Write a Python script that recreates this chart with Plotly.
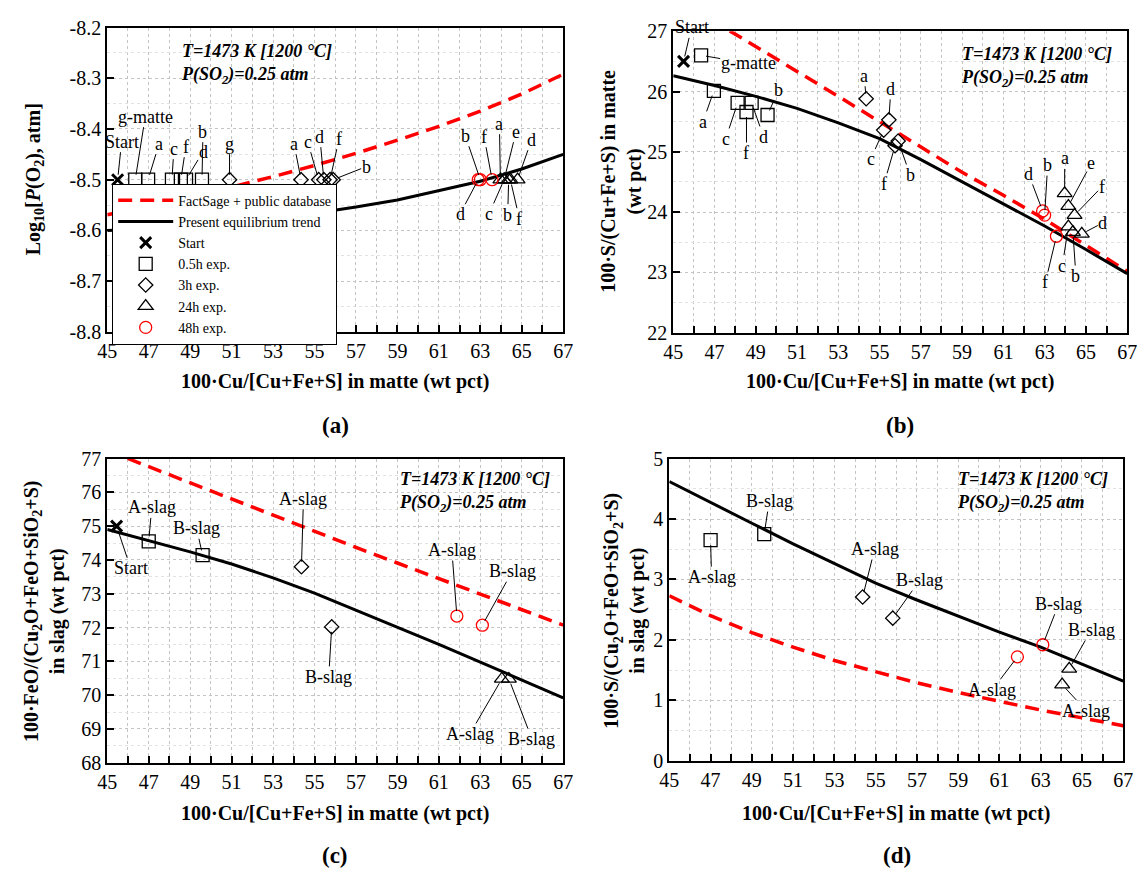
import plotly.graph_objects as go

FONT = "'Liberation Serif', 'Times New Roman', serif"
W, H = 1148, 882

# ------------------------------------------------------------------ data
x_curve = [45, 47, 49, 51, 53, 55, 57, 59, 61, 63, 65, 67]

pO2_factsage = [-8.569, -8.553, -8.535, -8.515, -8.494, -8.472, -8.448, -8.422, -8.395, -8.365, -8.331, -8.292]
pO2_present = [-8.600, -8.597, -8.591, -8.584, -8.576, -8.566, -8.554, -8.540, -8.522, -8.503, -8.479, -8.450]
Smatte_factsage = [27.57, 27.16, 26.74, 26.33, 25.92, 25.50, 25.08, 24.66, 24.28, 23.88, 23.45, 23.02]
Smatte_present = [26.26, 26.10, 25.92, 25.72, 25.48, 25.22, 24.87, 24.50, 24.13, 23.77, 23.38, 22.98]
FeOslag_factsage = [77.24, 76.76, 76.28, 75.80, 75.33, 74.85, 74.37, 73.91, 73.45, 72.99, 72.53, 72.07]
FeOslag_present = [74.90, 74.58, 74.24, 73.88, 73.47, 73.02, 72.52, 72.00, 71.50, 70.98, 70.45, 69.92]
Sslag_factsage = [2.73, 2.40, 2.12, 1.88, 1.66, 1.47, 1.29, 1.13, 0.98, 0.84, 0.71, 0.58]
Sslag_present = [4.62, 4.27, 3.93, 3.59, 3.26, 2.94, 2.66, 2.39, 2.13, 1.88, 1.60, 1.32]

# start composition
start_cu = [45.5]
start_pO2 = [-8.5]
start_Smatte = [26.5]
start_cu_slag = [45.45]
start_FeO = [75.0]

# matte experiments (panels a, b)
h05_labels = ["g-matte", "a", "c", "f", "d", "b"]
h05_cu = [46.35, 46.97, 48.12, 48.55, 48.80, 49.57]
h05_pO2 = [-8.5, -8.5, -8.5, -8.5, -8.5, -8.5]
h05_S = [26.60, 26.01, 25.81, 25.66, 25.81, 25.61]

h3_labels_a = ["g", "a", "c", "d", "f", "b"]
h3_cu_a = [50.9, 54.35, 55.2, 55.45, 55.75, 55.9]
h3_pO2 = [-8.5, -8.5, -8.5, -8.5, -8.5, -8.5]
h3_labels_b = ["a", "c", "d", "f", "b"]
h3_cu_b = [54.35, 55.2, 55.45, 55.75, 55.9]
h3_S = [25.88, 25.36, 25.53, 25.10, 25.18]

h24_labels = ["a", "c", "e", "b", "f", "d"]
h24_cu = [63.97, 64.15, 64.15, 64.37, 64.45, 64.80]
h24_pO2 = [-8.5, -8.5, -8.5, -8.5, -8.5, -8.5]
h24_S = [24.31, 23.76, 24.10, 23.67, 23.95, 23.64]

h48_labels = ["d", "b", "f"]
h48_cu = [62.9, 63.0, 63.57]
h48_pO2 = [-8.5, -8.5, -8.5]
h48_S = [24.02, 23.95, 23.60]

# slag experiments (panels c, d)
slag_labels = ["A-slag", "B-slag"]
s05_cu = [47.0, 49.6]
s05_FeO = [74.55, 74.14]
s05_S = [3.65, 3.75]
s3_cu = [54.37, 55.83]
s3_FeO = [73.80, 72.02]
s3_S = [2.71, 2.36]
s24_cu = [64.04, 64.38]
s24_FeO = [70.48, 70.48]
s24_S = [1.26, 1.52]
s48_cu = [61.87, 63.10]
s48_FeO = [72.34, 72.07]
s48_S = [1.72, 1.92]

x_ticks = list(range(45, 68, 2))
a_yticks = [-8.8, -8.7, -8.6, -8.5, -8.4, -8.3, -8.2]
a_yticktext = ["-8.8", "-8.7", "-8.6", "-8.5", "-8.4", "-8.3", "-8.2"]

# ------------------------------------------------------------------ styles / label offsets (px)
off_a = {
    "start": [(4, -38)],
    "h05": [(10, -63), (11, -36), (2, -31), (5, -33), (17, -28), (1, -48)],
    "h3": [(0, -36), (-7, -36), (-11, -38), (-4, -43), (9, -41), (33, -13)],
    "h24": [(-1, -56), (-15, 34), (12, -48), (-1, 35), (9, 39), (14, -40)],
    "h48": [(-18, 34), (-15, -44), (-8, -43)],
}
off_b = {
    "start": [(8, -34)],
    "h05": [(47, 8), (-11, 31), (-12, 36), (0, 41), (12, 34), (11, -25)],
    "h3": [(-2, -23), (-13, 29), (2, -31), (-11, 38), (12, 34)],
    "h24": [(0, -35), (-6, 39), (23, -43), (3, 44), (27, -28), (21, -11)],
    "h48": [(-14, -37), (3, -50), (-11, 46)],
}
off_c = {
    "start": [(14, 42)],
    "s05": [(3, -34), (-6, -27)],
    "s3": [(2, -68), (-3, 50)],
    "s48": [(-5, -66), (30, -54)],
    "s24": [(-32, 55), (23, 60)],
}
off_d = {
    "s05": [(1, 37), (5, -33)],
    "s3": [(12, -48), (27, -38)],
    "s48": [(-25, 33), (16, -41)],
    "s24": [(24, 26), (22, -39)],
}

RED = "#ff0000"
MK = {
    "start": dict(symbol="x-thin", size=11, color="black", line=dict(color="black", width=3)),
    "h05": dict(symbol="square-open", size=13, color="black", line=dict(width=1.3)),
    "h3": dict(symbol="diamond-open", size=11, color="black", line=dict(width=1.3)),
    "h24": dict(symbol="triangle-up-open", size=13, color="black", line=dict(width=1.3)),
    "h48": dict(symbol="circle-open", size=12, color=RED, line=dict(width=1.3)),
}

fig = go.Figure()
annotations = []


def add_curves(xa, ya, fact, pres, show):
    fig.add_trace(go.Scatter(x=x_curve, y=fact, mode="lines", name="FactSage + public database",
                             line=dict(color=RED, width=3.5, dash="14px,8px"),
                             xaxis=xa, yaxis=ya, showlegend=show, hoverinfo="skip"))
    fig.add_trace(go.Scatter(x=x_curve, y=pres, mode="lines", name="Present equilibrium trend",
                             line=dict(color="black", width=3),
                             xaxis=xa, yaxis=ya, showlegend=show, hoverinfo="skip"))


def add_pts(xa, ya, key, name, xs, ys, show):
    fig.add_trace(go.Scatter(x=xs, y=ys, mode="markers", name=name, marker=MK[key],
                             xaxis=xa, yaxis=ya, showlegend=show))


def add_labels(xa, ya, labels, xs, ys, offs):
    for lab, xv, yv, (dx, dy) in zip(labels, xs, ys, offs):
        annotations.append(dict(x=xv, y=yv, xref=xa, yref=ya, text=lab, showarrow=True,
                                arrowhead=0, arrowwidth=1, arrowcolor="black", ax=dx, ay=dy,
                                standoff=5, borderpad=0,
                                font=dict(family=FONT, size=18, color="black")))


# panel (a)
add_curves("x", "y", pO2_factsage, pO2_present, True)
add_pts("x", "y", "start", "Start", start_cu, start_pO2, True)
add_pts("x", "y", "h05", "0.5h exp.", h05_cu, h05_pO2, True)
add_pts("x", "y", "h3", "3h exp.", h3_cu_a, h3_pO2, True)
add_pts("x", "y", "h24", "24h exp.", h24_cu, h24_pO2, True)
add_pts("x", "y", "h48", "48h exp.", h48_cu, h48_pO2, True)
add_labels("x", "y", ["Start"], start_cu, start_pO2, off_a["start"])
add_labels("x", "y", h05_labels, h05_cu, h05_pO2, off_a["h05"])
add_labels("x", "y", h3_labels_a, h3_cu_a, h3_pO2, off_a["h3"])
add_labels("x", "y", h24_labels, h24_cu, h24_pO2, off_a["h24"])
add_labels("x", "y", h48_labels, h48_cu, h48_pO2, off_a["h48"])

# panel (b)
add_curves("x2", "y2", Smatte_factsage, Smatte_present, False)
add_pts("x2", "y2", "start", "Start", start_cu, start_Smatte, False)
add_pts("x2", "y2", "h05", "0.5h exp.", h05_cu, h05_S, False)
add_pts("x2", "y2", "h3", "3h exp.", h3_cu_b, h3_S, False)
add_pts("x2", "y2", "h24", "24h exp.", h24_cu, h24_S, False)
add_pts("x2", "y2", "h48", "48h exp.", h48_cu, h48_S, False)
add_labels("x2", "y2", ["Start"], start_cu, start_Smatte, off_b["start"])
add_labels("x2", "y2", h05_labels, h05_cu, h05_S, off_b["h05"])
add_labels("x2", "y2", h3_labels_b, h3_cu_b, h3_S, off_b["h3"])
add_labels("x2", "y2", h24_labels, h24_cu, h24_S, off_b["h24"])
add_labels("x2", "y2", h48_labels, h48_cu, h48_S, off_b["h48"])

# panel (c)
add_curves("x3", "y3", FeOslag_factsage, FeOslag_present, False)
add_pts("x3", "y3", "start", "Start", start_cu_slag, start_FeO, False)
add_pts("x3", "y3", "h05", "0.5h exp.", s05_cu, s05_FeO, False)
add_pts("x3", "y3", "h3", "3h exp.", s3_cu, s3_FeO, False)
add_pts("x3", "y3", "h24", "24h exp.", s24_cu, s24_FeO, False)
add_pts("x3", "y3", "h48", "48h exp.", s48_cu, s48_FeO, False)
add_labels("x3", "y3", ["Start"], start_cu_slag, start_FeO, off_c["start"])
add_labels("x3", "y3", slag_labels, s05_cu, s05_FeO, off_c["s05"])
add_labels("x3", "y3", slag_labels, s3_cu, s3_FeO, off_c["s3"])
add_labels("x3", "y3", slag_labels, s48_cu, s48_FeO, off_c["s48"])
add_labels("x3", "y3", slag_labels, s24_cu, s24_FeO, off_c["s24"])

# panel (d)
add_curves("x4", "y4", Sslag_factsage, Sslag_present, False)
add_pts("x4", "y4", "h05", "0.5h exp.", s05_cu, s05_S, False)
add_pts("x4", "y4", "h3", "3h exp.", s3_cu, s3_S, False)
add_pts("x4", "y4", "h24", "24h exp.", s24_cu, s24_S, False)
add_pts("x4", "y4", "h48", "48h exp.", s48_cu, s48_S, False)
add_labels("x4", "y4", slag_labels, s05_cu, s05_S, off_d["s05"])
add_labels("x4", "y4", slag_labels, s3_cu, s3_S, off_d["s3"])
add_labels("x4", "y4", slag_labels, s48_cu, s48_S, off_d["s48"])
add_labels("x4", "y4", slag_labels, s24_cu, s24_S, off_d["s24"])


def px(v):
    return v / W


def py(v):
    return 1 - v / H


def paper_text(text, x, y, size, xanchor="center", yanchor="middle", angle=0, align="center"):
    annotations.append(dict(text=text, x=px(x), y=py(y), xref="paper", yref="paper",
                            showarrow=False, xanchor=xanchor, yanchor=yanchor, textangle=angle,
                            align=align, font=dict(family=FONT, size=size, color="black")))


cond = "<b><i>T=1473 K [1200 °C]</i></b><br><b><i>P(SO<sub>2</sub>)=0.25 atm</i></b>"
paper_text(cond, 172, 29, 18, xanchor="left", yanchor="top", align="left")
paper_text(cond, 966, 32, 18, xanchor="left", yanchor="top", align="left")
paper_text(cond, 394, 468, 18, xanchor="left", yanchor="top", align="left")
paper_text(cond, 962, 468, 18, xanchor="left", yanchor="top", align="left")

xtitle = "<b>100·Cu/[Cu+Fe+S] in matte (wt pct)</b>"
paper_text(xtitle, 331, 380, 20)
paper_text(xtitle, 906, 380, 20)
paper_text(xtitle, 331, 823, 20)
paper_text(xtitle, 902, 823, 20)

paper_text("<b>(a)</b>", 331, 425, 23)
paper_text("<b>(b)</b>", 906, 425, 23)
paper_text("<b>(c)</b>", 331, 866, 23)
paper_text("<b>(d)</b>", 903, 866, 23)

paper_text("<b>Log<sub>10</sub>[<i>P</i>(O<sub>2</sub>), atm]</b>", 25, 173, 20, angle=-90)
paper_text("<b>100·S/(Cu+Fe+S) in matte<br>(wt pct)</b>", 622, 175, 20, angle=-90)
paper_text("<b>100·FeO/(Cu<sub>2</sub>O+FeO+SiO<sub>2</sub>+S)<br>in slag (wt pct)</b>", 35, 615, 20, angle=-90)
paper_text("<b>100·S/(Cu<sub>2</sub>O+FeO+SiO<sub>2</sub>+S)<br>in slag (wt pct)</b>", 626, 615, 20, angle=-90)

GRID = dict(showgrid=True, gridcolor="#c4c4c4", griddash="dot", gridwidth=1)
AX = dict(showline=True, linecolor="black", linewidth=2, mirror=True, zeroline=False,
          tickfont=dict(family=FONT, size=20, color="black"), ticks="inside", ticklen=7,
          tickcolor="black", tickwidth=1.5, **GRID)


def xaxis(domain, anchor):
    return dict(AX, domain=domain, anchor=anchor, range=[45, 67], tickmode="array",
                tickvals=x_ticks,
                minor=dict(dtick=1, tick0=45, ticks="inside", ticklen=7, tickcolor="black",
                           showgrid=True, gridcolor="#c4c4c4", griddash="dot"))


def yaxis(domain, anchor, rng, dtick, minor):
    return dict(AX, domain=domain, anchor=anchor, range=rng, dtick=dtick, tick0=rng[0],
                minor=dict(dtick=minor, tick0=rng[0], ticks="", showgrid=True,
                           gridcolor="#e2e2e2", griddash="dot"))


xa_dom = [px(99), px(563)]
xb_dom = [px(675), px(1137)]
xd_dom = [px(671), px(1133)]
ya_dom = [py(329), py(17)]
yb_dom = [py(330), py(20.7)]
yc_dom = [py(771), py(459)]
yd_dom = [py(769), py(459)]

ya = yaxis(ya_dom, "x", [-8.8, -8.2], 0.1, 0.05)
ya.update(tickmode="array", tickvals=a_yticks, ticktext=a_yticktext)

fig.update_layout(
    width=W, height=H, autosize=False,
    margin=dict(l=0, r=0, t=0, b=0),
    paper_bgcolor="white", plot_bgcolor="white",
    font=dict(family=FONT, size=18, color="black"),
    xaxis=xaxis(xa_dom, "y"), yaxis=ya,
    xaxis2=xaxis(xb_dom, "y2"), yaxis2=yaxis(yb_dom, "x2", [22, 27], 1, 0.5),
    xaxis3=xaxis(xa_dom, "y3"), yaxis3=yaxis(yc_dom, "x3", [68, 77], 1, 0.5),
    xaxis4=xaxis(xd_dom, "y4"), yaxis4=yaxis(yd_dom, "x4", [0, 5], 1, 0.5),
    legend=dict(x=px(104), y=py(177), xanchor="left", yanchor="top",
                bgcolor="white", bordercolor="black", borderwidth=1, itemwidth=55,
                font=dict(family=FONT, size=14, color="black"), tracegroupgap=0),
    annotations=annotations,
    showlegend=True,
)

fig.write_html("out.html")
